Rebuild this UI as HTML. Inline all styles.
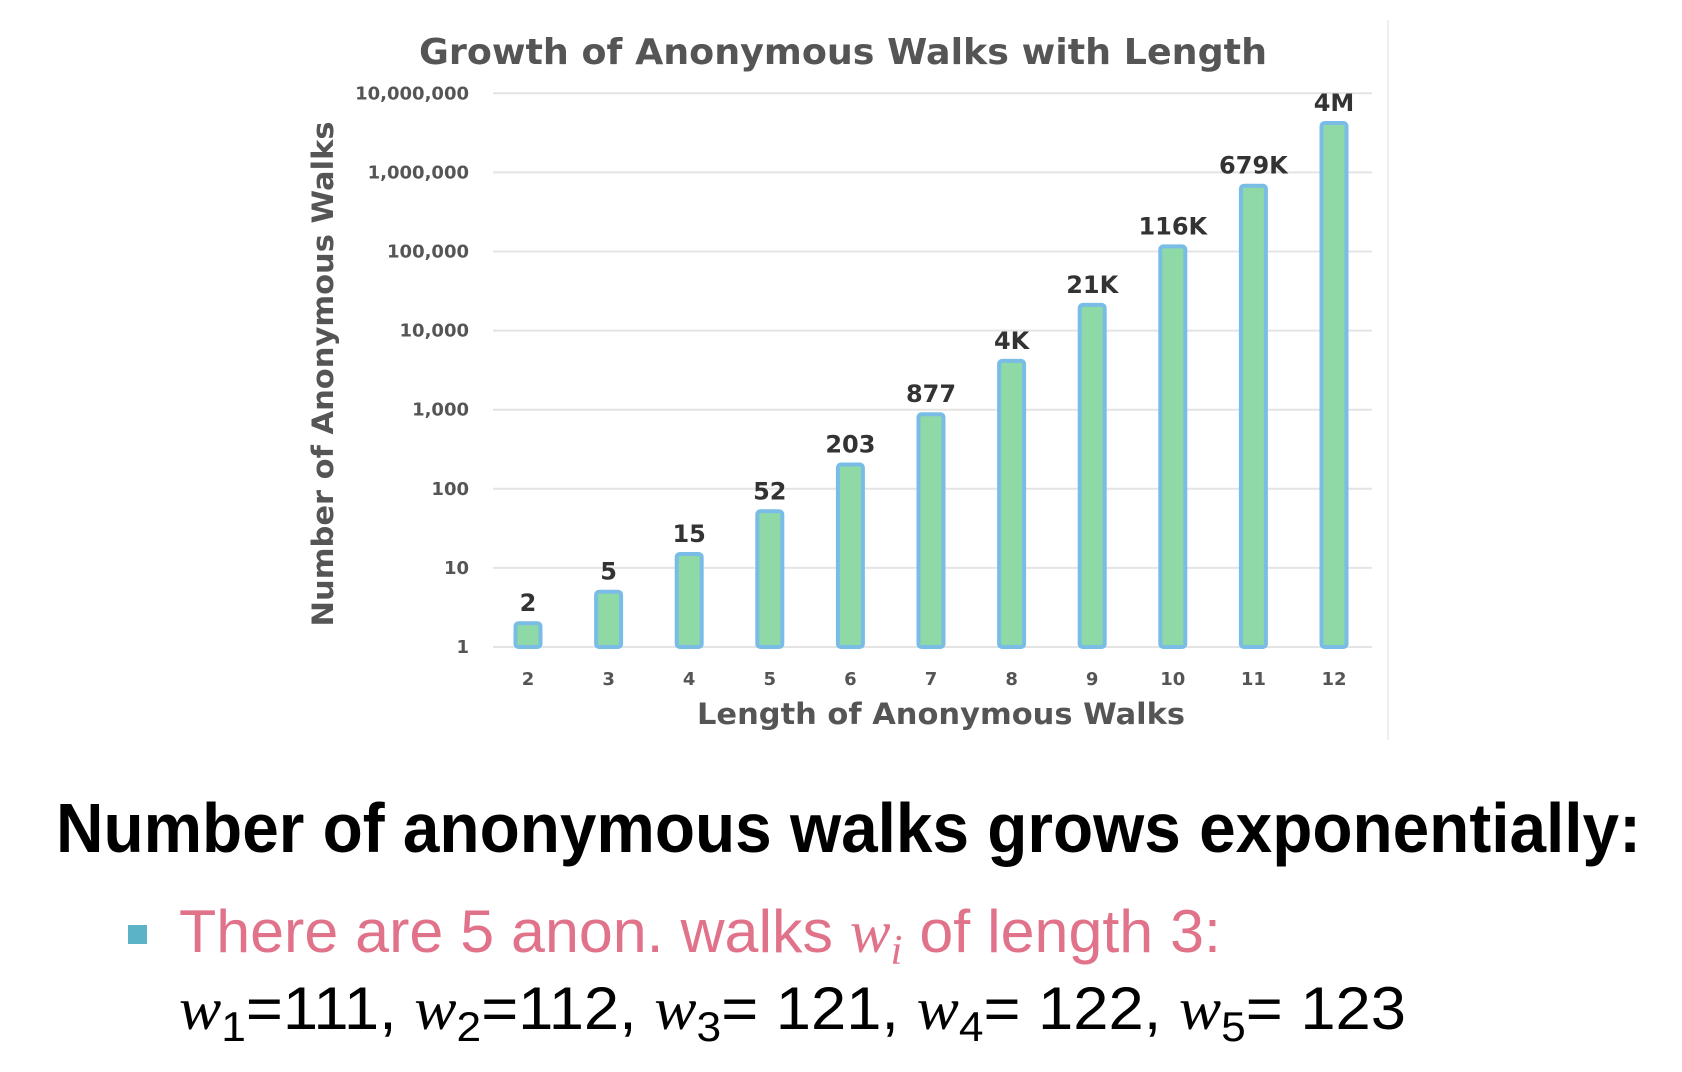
<!DOCTYPE html>
<html><head><meta charset="utf-8"><style>
html,body{margin:0;padding:0;background:#fff;width:1682px;height:1072px;overflow:hidden}
svg{display:block}
</style></head><body>
<svg id="chart" width="1682" height="1072" xmlns="http://www.w3.org/2000/svg">
<line x1="1388" y1="20" x2="1388" y2="740" stroke="#f0f0f0" stroke-width="2"/>
<text x="843" y="64" text-anchor="middle" textLength="848" lengthAdjust="spacingAndGlyphs" font-family="'DejaVu Sans', sans-serif" font-weight="bold" font-size="36" fill="#555">Growth of Anonymous Walks with Length</text>
<g id="grid"></g><g id="bars"></g>
<text x="941" y="724" text-anchor="middle" textLength="488" lengthAdjust="spacingAndGlyphs" font-family="'DejaVu Sans', sans-serif" font-weight="bold" font-size="29" fill="#555">Length of Anonymous Walks</text>
<text transform="translate(333,374) rotate(-90)" text-anchor="middle" textLength="505" lengthAdjust="spacingAndGlyphs" font-family="'DejaVu Sans', sans-serif" font-weight="bold" font-size="29" fill="#555">Number of Anonymous Walks</text>
<text x="56" y="852" textLength="1585" lengthAdjust="spacingAndGlyphs" font-family="'Liberation Sans', sans-serif" font-weight="bold" font-size="70" fill="#000">Number of anonymous walks grows exponentially:</text>
<rect x="128" y="925" width="19" height="19" fill="#5bb3c8"/>
<text x="179" y="952" textLength="1042" lengthAdjust="spacingAndGlyphs" font-family="'Liberation Sans', sans-serif" font-size="60" fill="#e0728a">There are 5 anon. walks <tspan font-family="'Liberation Serif', serif" font-style="italic">w</tspan><tspan font-family="'Liberation Serif', serif" font-style="italic" font-size="42" dy="12">i</tspan><tspan dy="-12"> of length 3:</tspan></text>
<text x="179" y="1029" textLength="1227" lengthAdjust="spacingAndGlyphs" font-family="'Liberation Sans', sans-serif" font-size="60" fill="#000"><tspan font-family="'Liberation Serif', serif" font-style="italic">w</tspan><tspan font-size="42" dy="12">1</tspan><tspan dy="-12">=111, </tspan><tspan font-family="'Liberation Serif', serif" font-style="italic">w</tspan><tspan font-size="42" dy="12">2</tspan><tspan dy="-12">=112, </tspan><tspan font-family="'Liberation Serif', serif" font-style="italic">w</tspan><tspan font-size="42" dy="12">3</tspan><tspan dy="-12">= 121, </tspan><tspan font-family="'Liberation Serif', serif" font-style="italic">w</tspan><tspan font-size="42" dy="12">4</tspan><tspan dy="-12">= 122, </tspan><tspan font-family="'Liberation Serif', serif" font-style="italic">w</tspan><tspan font-size="42" dy="12">5</tspan><tspan dy="-12">= 123</tspan></text>
</svg>
<script>
const categories = [2,3,4,5,6,7,8,9,10,11,12];
const values = [2,5,15,52,203,877,4140,21147,115975,678570,4213597];
const valueLabels = ["2","5","15","52","203","877","4K","21K","116K","679K","4M"];
const yTicks = [1,10,100,1000,10000,100000,1000000,10000000];
const yTickLabels = ["1","10","100","1,000","10,000","100,000","1,000,000","10,000,000"];
const NS = "http://www.w3.org/2000/svg";
const y0 = 647, decade = 79.1;
function yScale(v){ return y0 - Math.log10(v) * decade; }
function xScale(i){ return 528 + i * 80.6; }
function mk(tag, attrs, parent){ const e=document.createElementNS(NS,tag); for(const k in attrs) e.setAttribute(k,attrs[k]); parent.appendChild(e); return e; }
const grid=document.getElementById('grid'), bars=document.getElementById('bars');
yTicks.forEach((t,i)=>{
  const y=yScale(t);
  const l=mk('line',{x1:493,x2:1372,y1:y,y2:y,stroke:'#e4e4e4','stroke-width':2},grid);
  
  
  const tx=mk('text',{x:469,y:y+6,'text-anchor':'end','font-family':"'DejaVu Sans', sans-serif",'font-weight':'bold','font-size':18,fill:'#555'},grid);
  tx.textContent=yTickLabels[i];
  
  
});
categories.forEach((c,i)=>{
  const x=xScale(i), top=yScale(values[i]), w=25;
  const b=mk('rect',{x:x-w/2,y:top,width:w,height:y0-top,fill:'#8fd9a6',stroke:'#79bde6','stroke-width':4,rx:3},bars);
  
  
  const vl=mk('text',{x:x,y:top-12,'text-anchor':'middle','font-family':"'DejaVu Sans', sans-serif",'font-weight':'bold','font-size':24,fill:'#333'},bars);
  vl.textContent=valueLabels[i];
  
  
  const xl=mk('text',{x:x,y:685,'text-anchor':'middle','font-family':"'DejaVu Sans', sans-serif",'font-weight':'bold','font-size':18,fill:'#555'},bars);
  xl.textContent=c;
  
  
});
</script>
</body></html>
